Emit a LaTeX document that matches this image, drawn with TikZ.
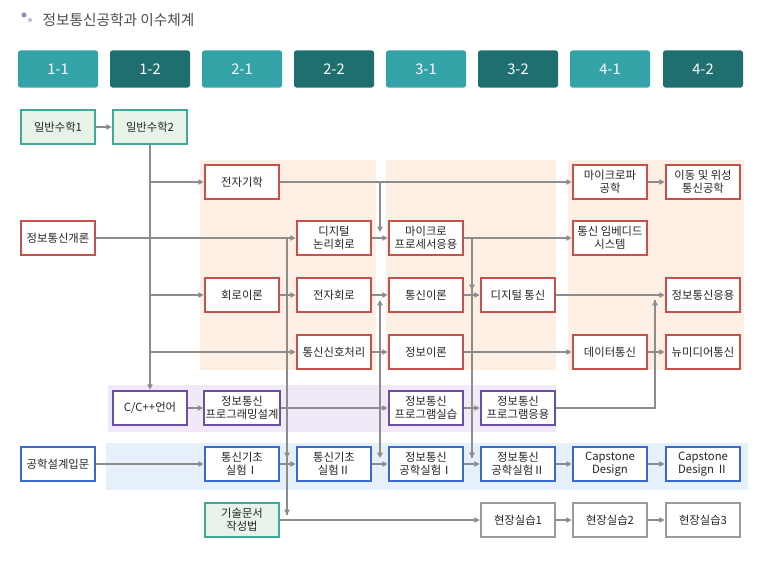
\documentclass[tikz,border=0pt]{standalone}
\usepackage{fontspec}
\setmainfont{Noto Sans CJK KR}
\usetikzlibrary{arrows.meta}
\definecolor{red1}{HTML}{C5504C}
\definecolor{teal1}{HTML}{3FA898}
\definecolor{tealf}{HTML}{E7F2E8}
\definecolor{purp}{HTML}{6A4FA5}
\definecolor{blue1}{HTML}{3868D0}
\definecolor{grayb}{HTML}{9A9A9A}
\definecolor{hl}{HTML}{33A3A8}
\definecolor{hd}{HTML}{1F6F70}
\definecolor{orbg}{HTML}{FDEFE4}
\definecolor{pubg}{HTML}{F1E9F7}
\definecolor{blbg}{HTML}{E6F0FA}
\definecolor{arr}{HTML}{8C8C8C}
\tikzset{
 bx/.style={draw,line width=1.6pt,fill=white,minimum width=56pt,minimum height=26pt,inner sep=1pt,align=center,font=\fontsize{8.5}{10}\selectfont,text=black!85},
 rb/.style={bx,draw=red1},
 tb/.style={bx,draw=teal1,fill=tealf},
 pb/.style={bx,draw=purp},
 bb/.style={bx,draw=blue1},
 gb/.style={bx,draw=grayb},
 hdr/.style={minimum width=60pt,minimum height=28pt,text=white,font=\fontsize{11}{12}\selectfont,rounded corners=2pt},
 ar/.style={draw=arr,line width=0.9pt,-{Triangle[length=4pt,width=4pt]}},
 ln/.style={draw=arr,line width=0.9pt},
}
\begin{document}
\begin{tikzpicture}[x=0.75pt,y=-0.75pt]
\useasboundingbox[fill=white] (0,0) rectangle (773,560);
% backgrounds
\fill[orbg] (200,160) rectangle (376,370);
\fill[orbg] (386,160) rectangle (556,370);
\fill[orbg] (568,160) rectangle (744,370);
\fill[pubg] (108,385) rectangle (556,432);
\fill[blbg] (106,443) rectangle (748,490);
% title
\fill[purp!70] (24,15) circle (2.5); \fill[purp!40] (30,20) circle (2);
\node[anchor=west,text=black!70,font=\fontsize{11}{12}\selectfont] (title) at (38,20) {정보통신공학과 이수체계};
% headers
\foreach \x/\t/\c [count=\i] in {58/1-1/hl,150/1-2/hd,242/2-1/hl,334/2-2/hd,426/3-1/hl,518/3-2/hd,610/4-1/hl,703/4-2/hd}
  \node[hdr,fill=\c] (h\i) at (\x,69) {\t};
% nodes
\node[tb] (m1) at (58,127) {일반수학1};
\node[tb] (m2) at (150,127) {일반수학2};
\node[rb] (em) at (242,182) {전자기학};
\node[rb] (mw) at (610,182) {마이크로파\\공학};
\node[rb] (mob) at (703,182) {이동 및 위성\\통신공학};
\node[rb] (intro) at (58,238) {정보통신개론};
\node[rb] (dl) at (334,238) {디지털\\논리회로};
\node[rb] (mp) at (426,238) {마이크로\\프로세서응용};
\node[rb] (emb) at (610,238) {통신 임베디드\\시스템};
\node[rb] (ct) at (242,295) {회로이론};
\node[rb] (ec) at (334,295) {전자회로};
\node[rb] (comt) at (426,295) {통신이론};
\node[rb] (dc) at (518,295) {디지털 통신};
\node[rb] (ica) at (703,295) {정보통신응용};
\node[rb] (sp) at (334,352) {통신신호처리};
\node[rb] (it) at (426,352) {정보이론};
\node[rb] (dcm) at (610,352) {데이터통신};
\node[rb] (nm) at (703,352) {뉴미디어통신};
\node[pb] (cpp) at (150,408) {C/C++언어};
\node[pb] (pd) at (242,408) {정보통신\\프로그래밍설계};
\node[pb] (pp) at (426,408) {정보통신\\프로그램실습};
\node[pb] (pa) at (518,408) {정보통신\\프로그램응용};
\node[bb] (ed) at (58,464) {공학설계입문};
\node[bb] (l1) at (242,464) {통신기초\\실험Ⅰ};
\node[bb] (l2) at (334,464) {통신기초\\실험Ⅱ};
\node[bb] (e1) at (426,464) {정보통신\\공학실험Ⅰ};
\node[bb] (e2) at (518,464) {정보통신\\공학실험Ⅱ};
\node[bb] (c1) at (610,464) {Capstone\\Design};
\node[bb] (c2) at (703,464) {Capstone\\Design Ⅱ};
\node[tb] (tw) at (242,520) {기술문서\\작성법};
\node[gb] (f1) at (518,520) {현장실습1};
\node[gb] (f2) at (610,520) {현장실습2};
\node[gb] (f3) at (703,520) {현장실습3};
% connectors
\draw[ar] (m1) -- (m2);
\draw[ar] (m2.south) -- (cpp.north);
\draw[ar] (150,182) -- (em);
\draw[ar] (150,295) -- (ct);
\draw[ar] (150,352) -- (sp);
\draw[ar] (intro) -- (dl);
\draw[ar] (em) -- (mw);
\draw[ar] (380,182) -- (380,232);
\draw[ar] (dl) -- (mp);
\draw[ar] (mp) -- (emb);
\draw[ln] (472,238) -- (472,458);
\draw[ar] (472,270) -- (472,290);
\draw[ar] (472,420) -- (472,458);
\draw[ar] (mw) -- (mob);
\draw[ar] (ct) -- (ec);
\draw[ar] (ec) -- (comt);
\draw[ar] (comt) -- (dc);
\draw[ar] (dc) -- (ica);
\draw[ar] (sp) -- (it);
\draw[ar] (it) -- (dcm);
\draw[ar] (dcm) -- (nm);
\draw[ln] (pa.east) -| (655,300);
\draw[ar] (655,320) -- (655,300);
\draw[ar] (cpp) -- (pd);
\draw[ar] (pd) -- (pp);
\draw[ar] (pp) -- (pa);
\draw[ar] (380,440) -- (380,300);
\draw[ar] (380,430) -- (380,458);
\draw[ln] (287,238) -- (287,515);
\draw[ar] (287,440) -- (287,458);
\draw[ar] (287,500) -- (287,515);
\draw[ar] (tw) -- (f1);
\draw[ar] (ed) -- (l1);
\draw[ar] (l1) -- (l2);
\draw[ar] (l2) -- (e1);
\draw[ar] (e1) -- (e2);
\draw[ar] (e2) -- (c1);
\draw[ar] (c1) -- (c2);
\draw[ar] (f1) -- (f2);
\draw[ar] (f2) -- (f3);
\end{tikzpicture}
\end{document}
